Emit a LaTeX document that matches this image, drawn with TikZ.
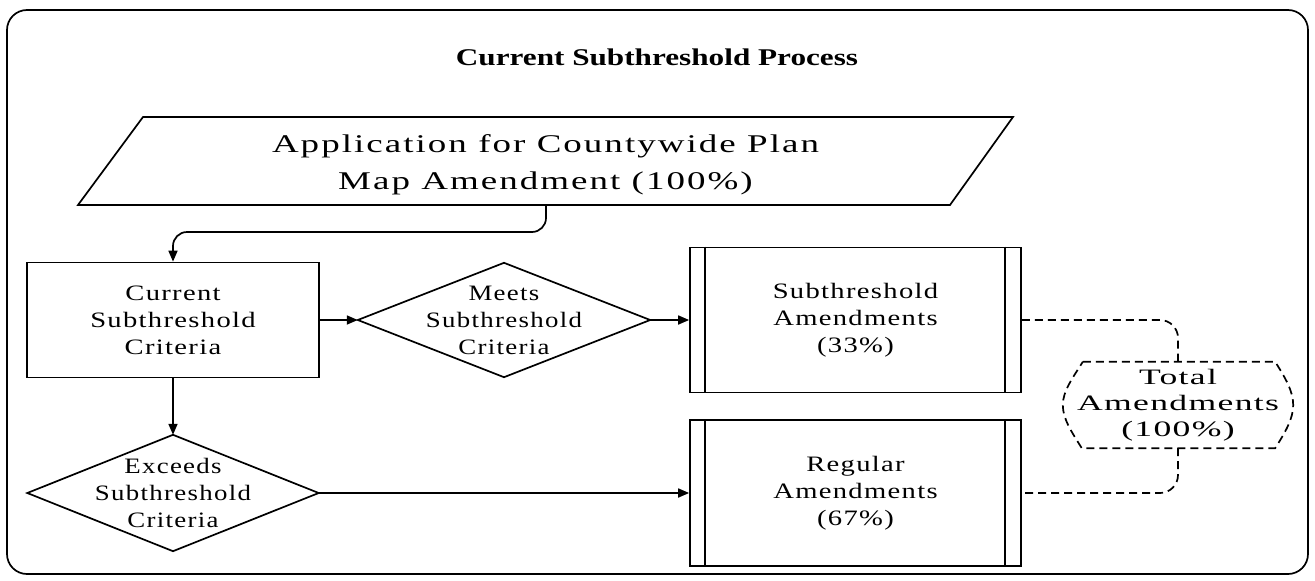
\documentclass[tikz,border=0pt]{standalone}
\usepackage{fontspec}
\setmainfont{Liberation Serif}
\newfontfamily\titlefont{Liberation Serif}[FakeStretch=1.3]
\newfontfamily\boxfont{Liberation Serif}[FakeStretch=1.3,LetterSpace=6]
\newfontfamily\decfont{Liberation Serif}[FakeStretch=1.22,LetterSpace=6]
\newfontfamily\totfont{Liberation Serif}[FakeStretch=1.62,LetterSpace=6]
\newfontfamily\appfont{Liberation Serif}[FakeStretch=1.45,LetterSpace=8]
\usetikzlibrary{arrows.meta,calc}

\tikzset{
  line/.style={line width=1.7pt, line join=miter},
  arrow/.style={line, -{Triangle[length=11pt,width=9pt]}},
  dashline/.style={line, dash pattern=on 8pt off 5pt},
  slot/.style={inner sep=0pt, align=center, font=\boxfont\fontsize{22}{27}\selectfont},
  decslot/.style={slot, font=\decfont\fontsize{22}{27}\selectfont},
  process/.style={slot, draw, line, minimum width=292pt, minimum height=115pt},
}

\begin{document}
\begin{tikzpicture}[x=1pt,y=-1pt]
  \useasboundingbox (0,0) rectangle (1315,581);

  % outer frame
  \draw[line, rounded corners=20pt] (7,10) rectangle (1308,574);

  % title
  \node (title) at (657,57) {\titlefont\bfseries\fontsize{24}{28}\selectfont Current Subthreshold Process};

  % input: application (parallelogram)
  \node[inner sep=0pt, align=center, font=\appfont\fontsize{25.5}{37}\selectfont] (app) at (545.5,165)
        {Application for Countywide Plan\\Map Amendment (100\%)};
  \draw[line] ($(app)+(-467.5,40)$) -- ($(app)+(-402.5,-48)$) -- ($(app)+(467.5,-48)$)
              -- ($(app)+(404.5,40)$) -- cycle;
  \coordinate (appout) at ($(app)+(0.5,40)$);

  % current criteria
  \node[process] (cur) at (173,320) {Current\\Subthreshold\\Criteria};

  % decisions
  \node[decslot, minimum width=292pt, minimum height=114pt] (meets) at (504,320)
        {Meets\\Subthreshold\\Criteria};
  \draw[line] (meets.west) -- (meets.north) -- (meets.east) -- (meets.south) -- cycle;

  \node[decslot, minimum width=291pt, minimum height=116pt] (exc) at (173,493)
        {Exceeds\\Subthreshold\\Criteria};
  \draw[line] (exc.west) -- (exc.north) -- (exc.east) -- (exc.south) -- cycle;

  % predefined processes
  \node[slot, draw, line, minimum width=331pt, minimum height=145pt] (sub) at (855.5,320)
        {Subthreshold\\Amendments\\(33\%)};
  \draw[line] ($(sub.north west)+(16,0)$) -- ($(sub.south west)+(16,0)$);
  \draw[line] ($(sub.north east)+(-17,0)$) -- ($(sub.south east)+(-17,0)$);

  \node[slot, draw, line, minimum width=331pt, minimum height=146pt] (reg) at (855.5,493)
        {Regular\\Amendments\\(67\%)};
  \draw[line] ($(reg.north west)+(16,0)$) -- ($(reg.south west)+(16,0)$);
  \draw[line] ($(reg.north east)+(-17,0)$) -- ($(reg.south east)+(-17,0)$);

  % total (display shape, dashed)
  \node[slot, font=\totfont\fontsize{22}{26}\selectfont, minimum width=230pt, minimum height=86pt]
        (tot) at (1178,405) {Total\\Amendments\\(100\%)};
  \draw[dashline]
    ($(tot.north west)+(20,0)$) -- ($(tot.north east)+(-18,0)$)
    .. controls +(10,16) and +(0,-14) .. (tot.east)
    .. controls +(0,14) and +(10,-16) .. ($(tot.south east)+(-18,0)$)
    -- ($(tot.south west)+(19,0)$)
    .. controls +(-10,-16) and +(0,14) .. (tot.west)
    .. controls +(0,-14) and +(-10,16) .. cycle;

  % connectors
  \draw[arrow, rounded corners=14pt] (appout) -- ++(0,27) -| (cur.north);
  \draw[arrow] (cur.east) -- (meets.west);
  \draw[arrow] (meets.east) -- (sub.west);
  \draw[arrow] (cur.south) -- (exc.north);
  \draw[arrow] (exc.east) -- (reg.west);
  \draw[dashline, rounded corners=18pt] (sub.east) -| (tot.north);
  \draw[dashline, rounded corners=18pt] (tot.south) |- (reg.east);
\end{tikzpicture}
\end{document}
